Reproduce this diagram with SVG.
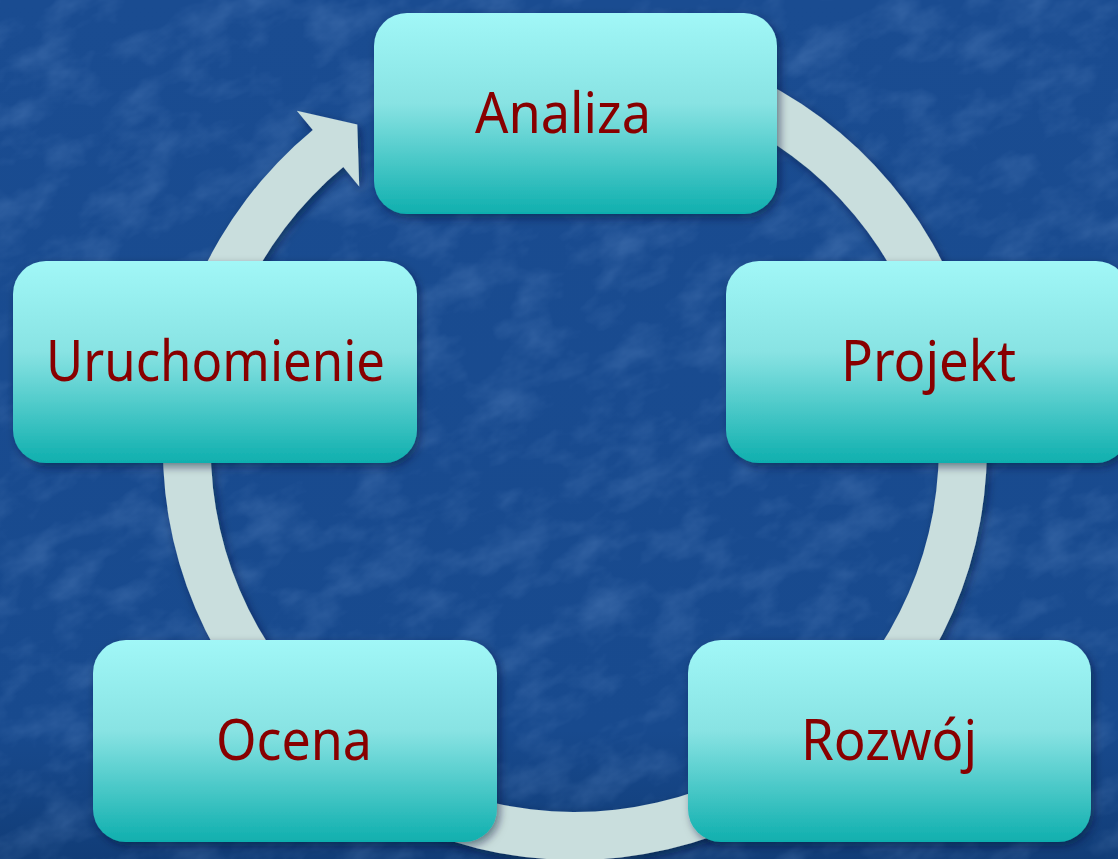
<svg xmlns="http://www.w3.org/2000/svg" width="1118" height="859" viewBox="0 0 1118 859">
  <defs>
    <linearGradient id="nodeGrad" x1="0" y1="0" x2="0" y2="1">
      <stop offset="0" stop-color="#A1F7F7"/>
      <stop offset="0.45" stop-color="#88E3E3"/>
      <stop offset="1" stop-color="#0FAFAE"/>
    </linearGradient>
    <linearGradient id="bgGrad" x1="0" y1="0" x2="0" y2="1">
      <stop offset="0" stop-color="#1A4C91"/>
      <stop offset="0.85" stop-color="#184A8E"/>
      <stop offset="1" stop-color="#113D78"/>
    </linearGradient>
    <filter id="shadow" x="-10%" y="-10%" width="125%" height="130%">
      <feDropShadow dx="3" dy="4" stdDeviation="4" flood-color="#001030" flood-opacity="0.5"/>
    </filter>
    <filter id="texture" x="0" y="0" width="100%" height="100%">
      <feTurbulence type="fractalNoise" baseFrequency="0.03 0.05" numOctaves="4" seed="11" result="n"/>
      <feColorMatrix in="n" type="matrix" values="0 0 0 0 0.3  0 0 0 0 0.5  0 0 0 0 0.85  0 0 0 1.4 -0.6"/>
    </filter>
    <style>
      .node { fill: url(#nodeGrad); filter: url(#shadow); }
      .label { font-family: "Noto Sans", "DejaVu Sans", sans-serif; font-size: 56px; fill: #880000; text-anchor: middle; }
      .ring { fill: #C9DEDD; stroke: none; }
    </style>
  </defs>

  <rect x="0" y="0" width="1118" height="859" fill="url(#bgGrad)"/>
  <rect x="0" y="0" width="1118" height="859" filter="url(#texture)" opacity="0.3" transform="rotate(-25 559 430) translate(-300 -300) scale(1.6)"/>

  <g id="connectors" filter="url(#shadow)">
    <path class="ring" d="M 575 36 A 412 412 0 1 1 312.8 130.1 L 296.8 110.8 L 357.3 124.4 L 359.2 186.4 L 343.3 167.1 A 364 364 0 1 0 575 84 Z"/>
  </g>

  <g id="node-analiza">
    <rect class="node" x="374" y="13" width="403" height="201" rx="33"/>
    <text class="label" x="563" y="133" textLength="176" lengthAdjust="spacingAndGlyphs">Analiza</text>
  </g>
  <g id="node-projekt">
    <rect class="node" x="726" y="261" width="403" height="202" rx="33"/>
    <text class="label" x="928.5" y="381" textLength="175" lengthAdjust="spacingAndGlyphs">Projekt</text>
  </g>
  <g id="node-rozwoj">
    <rect class="node" x="688" y="640" width="403" height="202" rx="33"/>
    <text class="label" x="889" y="760" textLength="176" lengthAdjust="spacingAndGlyphs">Rozwój</text>
  </g>
  <g id="node-ocena">
    <rect class="node" x="93" y="640" width="404" height="202" rx="33"/>
    <text class="label" x="294" y="760" textLength="156" lengthAdjust="spacingAndGlyphs">Ocena</text>
  </g>
  <g id="node-uruchomienie">
    <rect class="node" x="13" y="261" width="404" height="202" rx="33"/>
    <text class="label" x="215.5" y="381" textLength="339" lengthAdjust="spacingAndGlyphs">Uruchomienie</text>
  </g>
</svg>
